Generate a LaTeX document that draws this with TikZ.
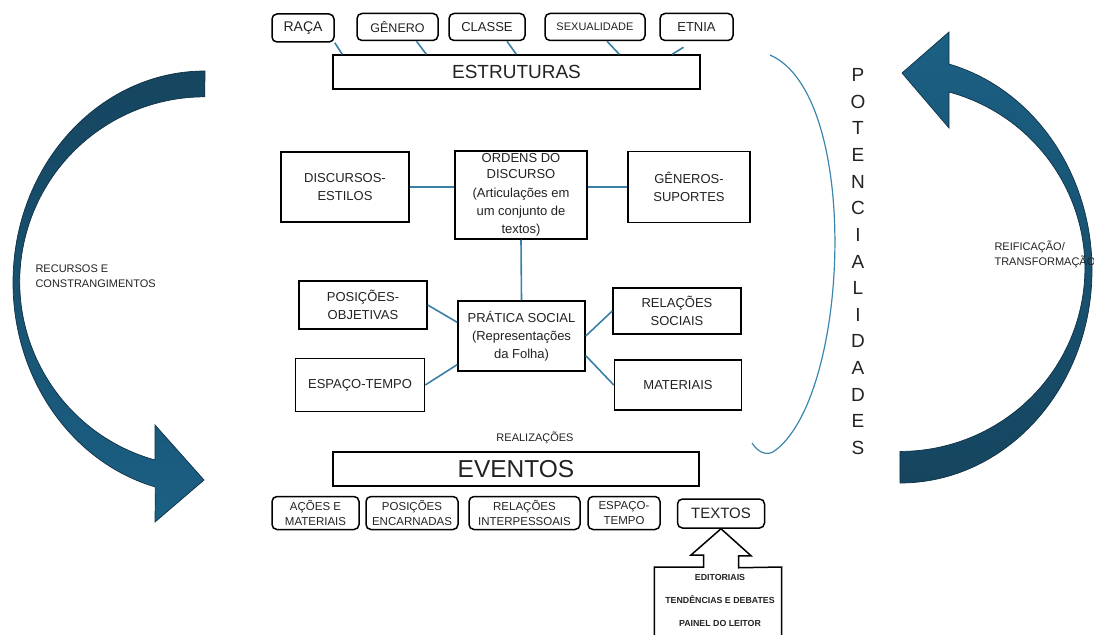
\documentclass[tikz,border=0pt]{standalone}
\usepackage{fontspec}
\setmainfont{Liberation Sans}
\usetikzlibrary{calc}
\usepackage[usenames]{xcolor}

\definecolor{txt}{HTML}{222222}
\definecolor{linkblue}{HTML}{3A7FA6}
\definecolor{arcblue}{HTML}{3C86AE}
\definecolor{arrowdark}{HTML}{16455F}
\definecolor{arrowlight}{HTML}{1B6084}
\definecolor{arrowedge}{HTML}{0F3146}

\newcommand{\setfs}[2]{\fontsize{#1}{#2}\selectfont}

\tikzset{
  tagbox/.style={draw, rounded corners=5pt, line width=1.5pt, inner sep=0pt, text=txt, align=center},
  framebox/.style={draw, line width=1.5pt, inner sep=0pt, text=txt, align=center},
  link/.style={draw=linkblue, line width=1.6pt},
  bigarrow/.style={draw=arrowedge, line width=0.7pt},
}

\begin{document}
\begin{tikzpicture}[x=1pt, y=-1pt]
\useasboundingbox (0,0) rectangle (1094,634);

% ---- curved arrows on both sides ----
\shadedraw[bigarrow, top color=arrowdark, bottom color=arrowlight]
  (205,71) arc[start angle=270, end angle=105, x radius=192, y radius=211.6]
  -- (155,522) -- (204,480) -- (155,425) -- (155,460)
  arc[start angle=105.6, end angle=270, x radius=185, y radius=185] -- cycle;
\shadedraw[bigarrow, top color=arrowlight, bottom color=arrowdark]
  (900,483) arc[start angle=90, end angle=-75.2, x radius=192, y radius=213]
  -- (949,32) -- (902,73) -- (949,128) -- (949,92)
  arc[start angle=-74.6, end angle=90, x radius=185, y radius=183] -- cycle;

\node[font=\setfs{11}{15}, text=txt, align=left, anchor=west] (recursos) at (32,276.5)
  {RECURSOS E\\CONSTRANGIMENTOS};
\node[font=\setfs{11}{15}, text=txt, align=left, anchor=west] (reific) at (991,254)
  {REIFICAÇÃO/\\TRANSFORMAÇÃO};

% ---- potencialidades ----
\draw[draw=arcblue, line width=1.2pt] (770,55) .. controls (862,95) and (850,400) .. (773,452)
  .. controls (765,456) and (757,451) .. (752,443);
\foreach \ch [count=\i from 0] in {P,O,T,E,N,C,I,A,L,I,D,A,D,E,S}
  \node[font=\setfs{19}{19}, text=txt] (pot\i) at (858,75+26.64*\i) {\ch};

% ---- estruturas ----
\node[tagbox, minimum width=62pt, minimum height=28pt, font=\setfs{14}{16}] (raca) at (303,28) {RAÇA};
\node[tagbox, minimum width=81pt, minimum height=27pt, font=\setfs{12.5}{15}] (gen) at (397.5,27) {GÊNERO};
\node[tagbox, minimum width=76pt, minimum height=27pt, font=\setfs{13}{15}] (cla) at (487,27) {CLASSE};
\node[tagbox, minimum width=100pt, minimum height=27pt, font=\setfs{11}{15}] (sex) at (595,27) {SEXUALIDADE};
\node[tagbox, minimum width=73pt, minimum height=27pt, font=\setfs{13}{15}] (etn) at (696.5,27) {ETNIA};
\node[framebox, minimum width=367pt, minimum height=34pt, font=\setfs{19}{22}] (estr) at (516.5,72) {ESTRUTURAS};

\draw[link] (raca.south east) -- ($(estr.north west)+(10,0)$);
\draw[link] ($(gen.south)+(19,0)$) -- ($(estr.north west)+(94,0)$);
\draw[link] ($(cla.south)+(20,0)$) -- ($(estr.north west)+(184,0)$);
\draw[link] ($(sex.south)+(12,0)$) -- ($(estr.north west)+(287,0)$);
\draw[link] ($(estr.north west)+(340,0)$) -- ($(etn.south)+(-13,6)$);

% ---- ordens do discurso / pratica social ----
\node[framebox, minimum width=128pt, minimum height=70pt, font=\setfs{13}{18}] (disc) at (345,187) {DISCURSOS-\\ESTILOS};
\node[framebox, minimum width=132pt, minimum height=88pt, font=\setfs{13}{18.4}] (ordens) at (521,195)
  {\raisebox{-2pt}{ORDENS DO}\\DISCURSO\\(Articulações em\\um conjunto de\\textos)};
\node[framebox, minimum width=122pt, minimum height=71pt, font=\setfs{13}{18}] (generos) at (689,187) {GÊNEROS-\\SUPORTES};
\node[framebox, minimum width=128pt, minimum height=48pt, font=\setfs{13}{18}] (posobj) at (363,305) {POSIÇÕES-\\OBJETIVAS};
\node[framebox, minimum width=129pt, minimum height=53pt, font=\setfs{13}{18}] (espaco) at (360,385) {ESPAÇO-TEMPO};
\node[framebox, minimum width=127pt, minimum height=70pt, font=\setfs{13}{18}] (pratica) at (521.5,336)
  {PRÁTICA SOCIAL\\(Representações\\da Folha)};
\node[framebox, minimum width=128pt, minimum height=46pt, font=\setfs{13}{18}] (relsoc) at (677,311) {RELAÇÕES\\SOCIAIS};
\node[framebox, minimum width=127pt, minimum height=50pt, font=\setfs{13}{18}] (mater) at (678,385) {MATERIAIS};

\draw[link] (disc.east) -- (disc.east -| ordens.west);
\draw[link] (generos.west) -- (generos.west -| ordens.east);
\draw[link] (ordens.south) -- (pratica.north);
\draw[link] (posobj.east) -- (pratica.168);
\draw[link] (espaco.east) -- (pratica.204);
\draw[link] (relsoc.west) -- (pratica.east);
\draw[link] (mater.west) -- (pratica.-17);

% ---- eventos ----
\node[font=\setfs{11}{13}, text=txt] (realiz) at (535,438) {REALIZAÇÕES};
\node[framebox, minimum width=366pt, minimum height=34pt, font=\setfs{24.5}{27}] (eventos) at (516,469) {EVENTOS};

\node[tagbox, minimum width=87pt, minimum height=33pt, font=\setfs{11.5}{15}] (acoes) at (315.5,513) {AÇÕES E\\MATERIAIS};
\node[tagbox, minimum width=92pt, minimum height=33pt, font=\setfs{11.5}{15}] (posenc) at (412,513) {POSIÇÕES\\ENCARNADAS};
\node[tagbox, minimum width=111pt, minimum height=33pt, font=\setfs{11.5}{15}] (relint) at (524.5,513) {RELAÇÕES\\INTERPESSOAIS};
\node[tagbox, minimum width=72pt, minimum height=33pt, font=\setfs{11.5}{15}] (espt) at (624,513) {ESPAÇO-\\TEMPO};
\node[tagbox, minimum width=87pt, minimum height=29pt, font=\setfs{15}{17}] (textos) at (721,513.5) {TEXTOS};

% ---- callout with the text genres ----
\node[minimum width=127pt, minimum height=80pt, inner sep=0pt, anchor=north] (painel) at (718,567) {};
\draw[line width=1.5pt] (painel.south west) -- (painel.north west)
  -- ($(textos.south |- painel.north)+(-17.5,0)$) -- ++(0,-12) -- ++(-12.5,0)
  -- (textos.south) -- ++(30,27) -- ++(-12.5,0) -- ++(0,12)
  -- (painel.north east) -- (painel.south east);
\node[font=\bfseries\setfs{8.8}{10}, text=txt] (edit) at (720,577) {EDITORIAIS};
\node[font=\bfseries\setfs{8.8}{10}, text=txt] (tend) at (720,600) {TENDÊNCIAS E DEBATES};
\node[font=\bfseries\setfs{8.8}{10}, text=txt] (leitor) at (720,623) {PAINEL DO LEITOR};

\end{tikzpicture}
\end{document}
